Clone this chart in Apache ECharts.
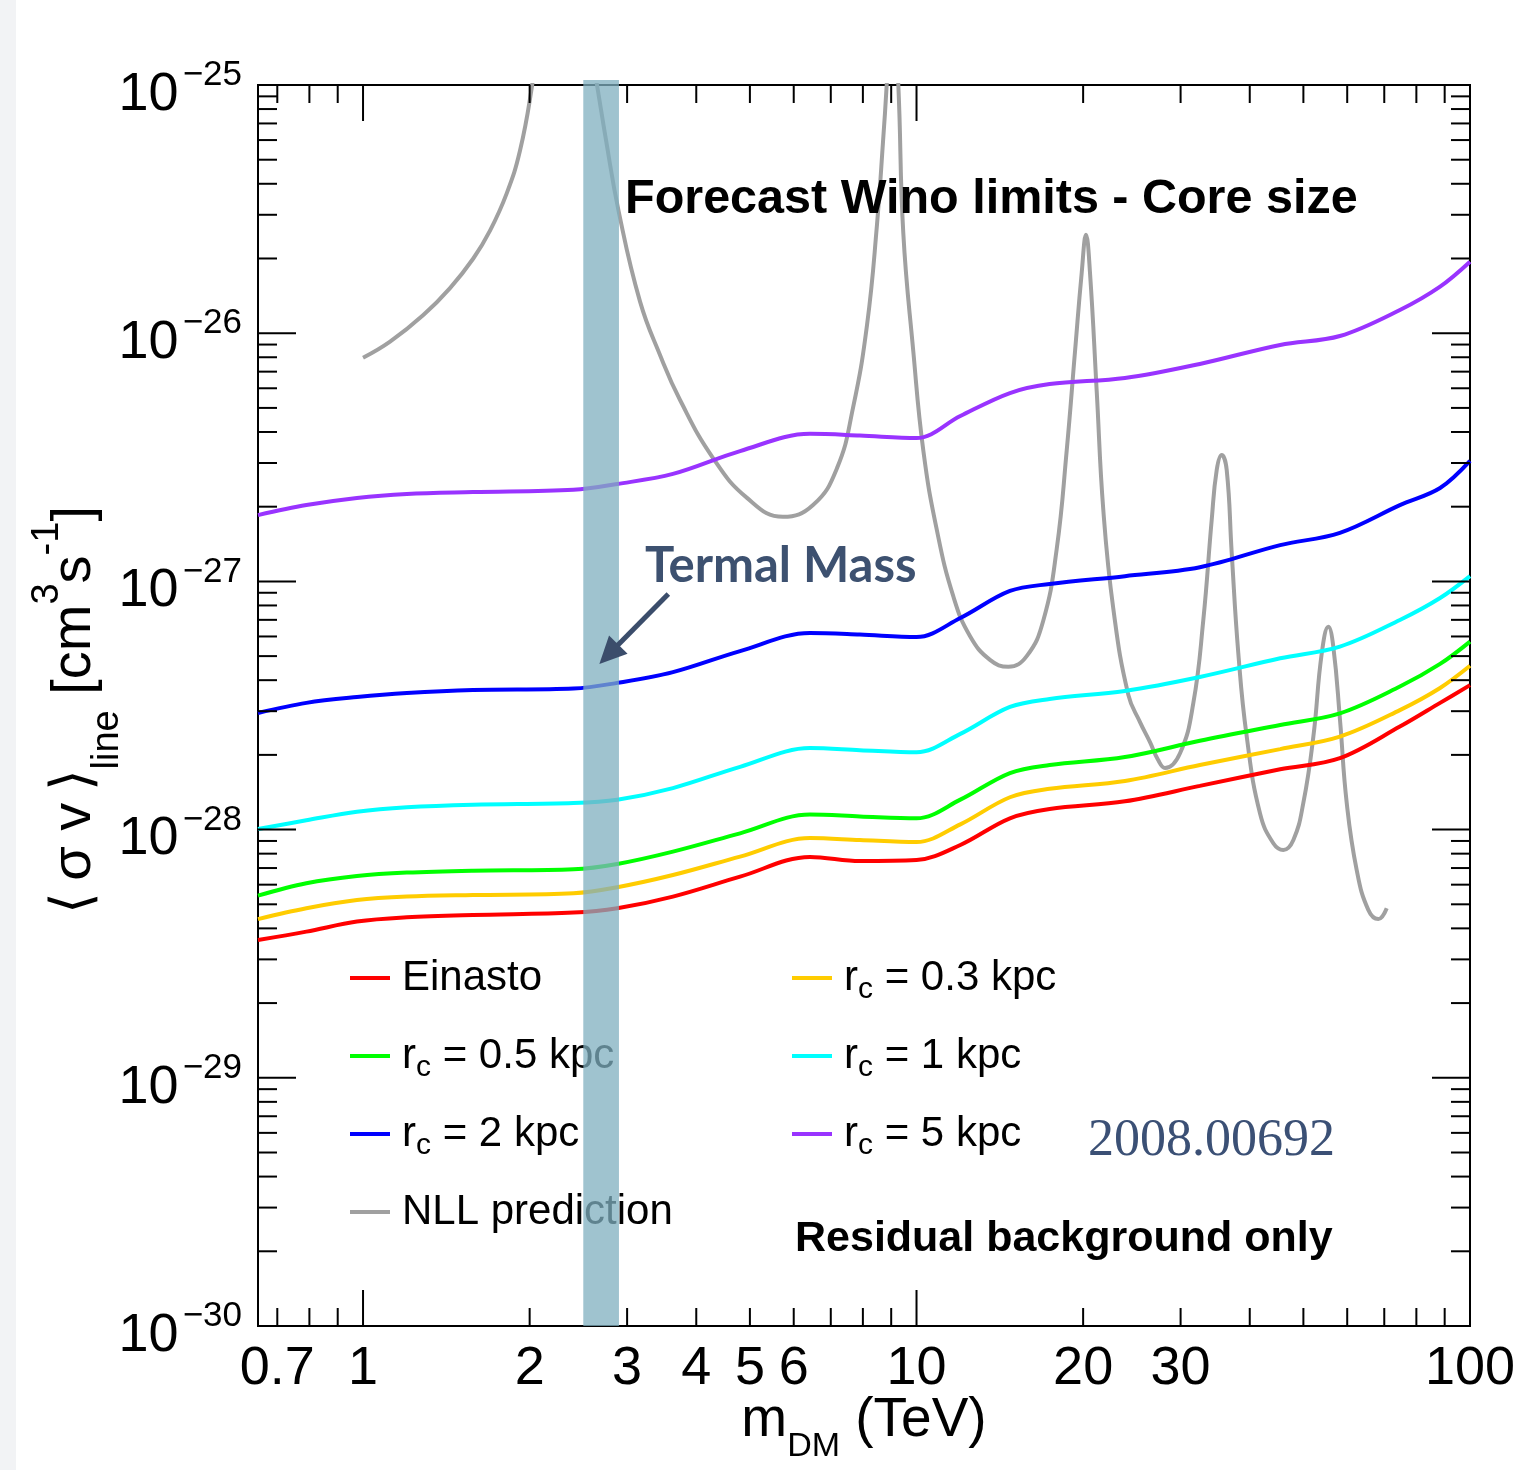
<!DOCTYPE html>
<html>
<head>
<meta charset="utf-8">
<script src="https://cdn.jsdelivr.net/npm/echarts/dist/echarts.min.js"></script>
<style>
html,body{margin:0;padding:0;background:#ffffff;}
#chart{width:1532px;height:1470px;}
</style>
</head>
<body>
<div id="chart"></div>
<script>
// ---------------- data ----------------
const massTeV      = [0.646, 0.79, 0.975, 1.2, 1.58, 2.4, 2.88, 3.63, 4.8, 6.42, 7.9, 10.0, 12.0, 14.75, 17.4, 23.8, 32.5, 45.4, 58.2, 74.7, 88.3, 100];
const sigmaEinasto = [3.59e-29, 3.88e-29, 4.26e-29, 4.43e-29, 4.53e-29, 4.63e-29, 4.82e-29, 5.37e-29, 6.46e-29, 7.76e-29, 7.47e-29, 7.54e-29, 8.67e-29, 1.11e-28, 1.21e-28, 1.30e-28, 1.50e-28, 1.75e-28, 1.94e-28, 2.60e-28, 3.24e-28, 3.82e-28];
const sigmaRc03    = [4.36e-29, 4.82e-29, 5.20e-29, 5.37e-29, 5.45e-29, 5.54e-29, 5.86e-29, 6.56e-29, 7.78e-29, 9.25e-29, 9.08e-29, 8.91e-29, 1.05e-28, 1.35e-28, 1.46e-28, 1.57e-28, 1.82e-28, 2.11e-28, 2.37e-28, 3.03e-28, 3.72e-28, 4.57e-28];
const sigmaRc05    = [5.42e-29, 6.08e-29, 6.50e-29, 6.71e-29, 6.83e-29, 6.92e-29, 7.27e-29, 8.15e-29, 9.66e-29, 1.15e-28, 1.13e-28, 1.11e-28, 1.32e-28, 1.69e-28, 1.82e-28, 1.96e-28, 2.28e-28, 2.64e-28, 2.94e-28, 3.77e-28, 4.65e-28, 5.72e-28];
const sigmaRc1     = [1.006e-28, 1.09e-28, 1.18e-28, 1.23e-28, 1.26e-28, 1.28e-28, 1.32e-28, 1.47e-28, 1.79e-28, 2.13e-28, 2.09e-28, 2.05e-28, 2.43e-28, 3.12e-28, 3.36e-28, 3.62e-28, 4.12e-28, 4.90e-28, 5.46e-28, 6.99e-28, 8.57e-28, 1.05e-27];
const sigmaRc2     = [2.95e-28, 3.24e-28, 3.42e-28, 3.55e-28, 3.65e-28, 3.70e-28, 3.90e-28, 4.31e-28, 5.24e-28, 6.20e-28, 6.11e-28, 5.97e-28, 7.12e-28, 9.15e-28, 9.76e-28, 1.05e-27, 1.14e-27, 1.40e-27, 1.57e-27, 2.03e-27, 2.38e-27, 3.06e-27];
const sigmaRc5     = [1.85e-27, 2.03e-27, 2.17e-27, 2.25e-27, 2.29e-27, 2.34e-27, 2.47e-27, 2.71e-27, 3.35e-27, 3.93e-27, 3.87e-27, 3.78e-27, 4.64e-27, 5.74e-27, 6.24e-27, 6.60e-27, 7.52e-27, 8.97e-27, 9.74e-27, 1.24e-26, 1.54e-26, 1.94e-26];

// NLL prediction (null = curve leaves the frame above 1e-25)
const nllMass  = [1.00, 1.119, 1.285, 1.436, 1.582, 1.696, 1.818, 1.921, 2.017, 2.045, 2.3,
                  2.62, 2.748, 2.897, 3.166, 3.44, 3.739, 4.289, 4.94, 5.738, 6.502, 7.184, 7.678, 8.139, 8.483, 8.698, 8.833, 8.88, 9.0,
                  9.183, 9.271, 9.465, 9.868, 10.287, 10.877, 11.659, 12.496, 13.575, 14.652, 15.815, 16.947, 17.918, 18.679, 19.335, 19.881, 20.241, 20.58, 21.162, 21.751, 22.673, 24.137, 25.338, 26.414, 27.31, 28.114, 29.929, 31.63, 32.973, 34.145, 34.864, 35.597, 36.345, 37.11, 38.143, 39.5, 41.75, 44.12, 46.0, 47.96, 49.99, 52.12, 53.97, 55.47, 56.63, 58.23, 59.88, 62.42, 65.5, 68.29, 70.72];
const nllSigma = [7.96e-27, 9.24e-27, 1.183e-26, 1.52e-26, 2.00e-26, 2.59e-26, 3.66e-26, 5.43e-26, 9.70e-26, 1.3e-25, null,
                  1.15e-25, 6.0e-26, 3.09e-26, 1.34e-26, 8.17e-27, 5.38e-27, 3.14e-27, 2.17e-27, 1.82e-27, 2.03e-27, 2.86e-27, 5.0e-27, 1.08e-26, 2.73e-26, 5.89e-26, 1.0e-25, 1.3e-25, null,
                  1.149e-25, 1.0e-25, 2.53e-26, 8.43e-27, 3.37e-27, 1.62e-27, 8.68e-28, 6.01e-28, 4.83e-28, 4.53e-28, 5.0e-28, 6.96e-28, 1.35e-27, 3.37e-27, 8.43e-27, 1.75e-26, 2.49e-26, 1.75e-26, 5.84e-27, 1.94e-27, 7.77e-28, 3.49e-28, 2.71e-28, 2.25e-28, 1.91e-28, 1.77e-28, 2.03e-28, 3.23e-28, 6.99e-28, 1.77e-27, 2.81e-27, 3.23e-27, 2.81e-27, 1.30e-27, 5.13e-28, 2.37e-28, 1.16e-28, 8.81e-29, 8.28e-29, 9.08e-29, 1.28e-28, 2.37e-28, 5.13e-28, 6.57e-28, 5.46e-28, 2.76e-28, 1.28e-28, 6.87e-29, 4.75e-29, 4.36e-29, 4.82e-29];

const thermalMassBand = [2.5, 2.9];          // TeV
const arrowFrom = [3.561, 8.90e-28];         // annotation arrow (data coords)
const arrowTo   = [2.673, 4.65e-28];

// axis ticks
const xMin = 0.646, xMax = 100, yMin = 1e-30, yMax = 1e-25;
const xMajorTicks = [1, 10, 100];
const xMinorTicks = [0.7, 0.8, 0.9, 2, 3, 4, 5, 6, 7, 8, 9, 20, 30, 40, 50, 60, 70, 80, 90];
const xTickLabels = [0.7, 1, 2, 3, 4, 5, 6, 10, 20, 30, 100];
const yDecades = [-30, -29, -28, -27, -26, -25];
const yMinorFactors = [2, 3, 4, 5, 6, 7, 8, 9];

// series names / colours / legend labels
const seriesKeys   = ['Einasto', 'rc03', 'rc05', 'rc1', 'rc2', 'rc5'];
const seriesValues = [sigmaEinasto, sigmaRc03, sigmaRc05, sigmaRc1, sigmaRc2, sigmaRc5];
const seriesColors = ['#ff0000', '#ffcc00', '#00ff00', '#00ffff', '#0000ff', '#9933ff'];
const nllColor = '#a0a0a0';
const legendCol1 = ['Einasto', 'rc05', 'rc2', 'NLL'];
const legendCol2 = ['rc03', 'rc1', 'rc5'];
const legendText = {
  'Einasto': '{f|Einasto}{c|\u2009}',
  'rc03': '{f|r}{c|c}{t| = 0.3 kpc}',
  'rc05': '{f|r}{c|c}{t| = 0.5 kpc}',
  'rc1':  '{f|r}{c|c}{t| = 1 kpc}',
  'rc2':  '{f|r}{c|c}{t| = 2 kpc}',
  'rc5':  '{f|r}{c|c}{t| = 5 kpc}',
  'NLL':  '{f|NLL prediction}{c|\u2009}'
};

// ---------------- chart ----------------
const FONT = "'Liberation Sans', Arial, Helvetica, sans-serif";
const chart = echarts.init(document.getElementById('chart'), null, {renderer: 'canvas'});

const lineSeries = seriesKeys.map((k, i) => ({
  name: k, type: 'line', z: 3, symbol: 'none', smooth: 0.35, silent: true,
  lineStyle: {color: seriesColors[i], width: 4}, itemStyle: {color: seriesColors[i]},
  data: massTeV.map((m, j) => [m, seriesValues[i][j]])
}));

const nllSeries = {
  name: 'NLL', type: 'line', z: 2, symbol: 'none', smooth: 0.45, silent: true, connectNulls: false,
  lineStyle: {color: nllColor, width: 4}, itemStyle: {color: nllColor},
  data: nllMass.map((m, j) => [m, nllSigma[j] === null ? '-' : nllSigma[j]])
};

const xTickData = xMajorTicks.map(v => [v, yMin, 1]).concat(xMinorTicks.map(v => [v, yMin, 0]));
const yTickData = [];
yDecades.forEach(e => {
  yTickData.push([xMin, Math.pow(10, e), 1]);
  if (e < -25) yMinorFactors.forEach(f => yTickData.push([xMin, f * Math.pow(10, e), 0]));
});

const tickStyle = {stroke: '#000', lineWidth: 2};

const richLegend = {
  f: {fontSize: 42, fontFamily: FONT, color: '#000', lineHeight: 54, padding: [0, 0, 0, 7]},
  t: {fontSize: 42, fontFamily: FONT, color: '#000', lineHeight: 54},
  c: {fontSize: 30, fontFamily: FONT, color: '#000', lineHeight: 30, padding: [24, 0, 0, 0]}
};
const legendBase = {orient: 'vertical', itemGap: 24, itemWidth: 40, itemHeight: 4, icon: 'rect', padding: 0,
  selectedMode: false, formatter: n => legendText[n], textStyle: {rich: richLegend}};

const option = {
  animation: false,
  backgroundColor: '#ffffff',
  grid: {left: 258, top: 85, right: 62, bottom: 144, show: true, borderColor: '#000', borderWidth: 2,
         backgroundColor: '#ffffff', containLabel: false, outerBoundsMode: 'none'},
  xAxis: {
    type: 'log', logBase: 10, min: xMin, max: xMax,
    axisLine: {show: true, lineStyle: {color: '#000', width: 2}},
    axisTick: {show: false}, axisLabel: {show: false}, splitLine: {show: false}, minorTick: {show: false},
    name: '{a|m}{d|DM}{a| (TeV)}', nameLocation: 'middle', nameGap: 63,
    nameTextStyle: {rich: {
      a: {fontSize: 55, fontFamily: FONT, color: '#000', lineHeight: 64},
      d: {fontSize: 34, fontFamily: FONT, color: '#000', lineHeight: 34, padding: [51, 0, 0, 0]}
    }}
  },
  yAxis: {
    type: 'log', logBase: 10, min: yMin, max: yMax,
    axisLine: {show: true, lineStyle: {color: '#000', width: 2}},
    axisTick: {show: false}, splitLine: {show: false}, minorTick: {show: false},
    axisLabel: {show: false}
  },
  legend: [
    Object.assign({}, legendBase, {left: 350, top: 951, data: legendCol1}),
    Object.assign({}, legendBase, {left: 792, top: 951, data: legendCol2})
  ],
  graphic: [
    {type: 'rect', shape: {x: 0, y: 0, width: 16, height: 1470}, style: {fill: '#f2f3f5'}, silent: true},
    {type: 'text', x: 625, y: 200, silent: true, z: 20,
     style: {text: 'Forecast Wino limits - Core size', font: "bold 48.5px 'Liberation Sans', Arial, sans-serif",
             fill: '#000', align: 'left', verticalAlign: 'middle'}},
    {type: 'text', x: 645, y: 566, silent: true, z: 20,
     style: {text: 'Termal Mass', font: "bold 49px Lato, 'Open Sans', sans-serif",
             fill: '#3d5170', align: 'left', verticalAlign: 'middle'}},
    {type: 'text', x: 1088, y: 1141, silent: true, z: 20,
     style: {text: '2008.00692', font: "52px 'Liberation Serif', 'DejaVu Serif', serif",
             fill: '#3b5075', align: 'left', verticalAlign: 'middle'}},
    {type: 'text', x: 795, y: 1239, silent: true, z: 20,
     style: {text: 'Residual background only', font: "bold 43px 'Liberation Sans', Arial, sans-serif",
             fill: '#000', align: 'left', verticalAlign: 'middle'}},
    // y-axis title (rotated)
    {type: 'text', x: 75, y: 710, rotation: Math.PI / 2, silent: true, z: 20,
     style: {text: '{a|\u27E8\u2009\u03C3 v\u2009\u27E9}{d|line}{a| [cm}{u|3}{a|s}{u|-1}{a|]}',
             align: 'center', verticalAlign: 'middle',
             rich: {
               a: {fontSize: 56, fontFamily: FONT, fill: '#000', color: '#000', lineHeight: 64},
               d: {fontSize: 38, fontFamily: FONT, fill: '#000', color: '#000', lineHeight: 36, padding: [66, 0, 0, 0]},
               u: {fontSize: 38, fontFamily: FONT, fill: '#000', color: '#000', lineHeight: 36, padding: [0, 0, 54, 0]}
             }}}
  ],
  series: [
    nllSeries,
    ...lineSeries,
    // thermal mass band (drawn over the curves)
    {type: 'custom', name: 'band', z: 5, silent: true, clip: false,
     encode: {x: 0, y: 1},
     data: [[thermalMassBand[0], yMin, thermalMassBand[1]]],
     renderItem: (p, api) => {
       const a = api.coord([api.value(0), yMax]);
       const b = api.coord([api.value(2), yMin]);
       return {type: 'rect', shape: {x: a[0], y: a[1] - 5, width: b[0] - a[0], height: b[1] - a[1] + 5},
               style: {fill: 'rgba(127,175,191,0.75)'}};
     }},
    // annotation arrow
    {type: 'custom', name: 'arrow', z: 6, silent: true, clip: false, encode: {x: 0, y: 1},
     data: [[arrowFrom[0], arrowFrom[1], arrowTo[0], arrowTo[1]]],
     renderItem: (p, api) => {
       const a = api.coord([api.value(0), api.value(1)]);
       const b = api.coord([api.value(2), api.value(3)]);
       const dx = b[0] - a[0], dy = b[1] - a[1], L = Math.sqrt(dx * dx + dy * dy);
       const ux = dx / L, uy = dy / L, px = -uy, py = ux;
       const hl = 27, hw = 13;
       const bx = b[0] - ux * hl, by = b[1] - uy * hl;
       return {type: 'group', children: [
         {type: 'line', shape: {x1: a[0], y1: a[1], x2: bx + ux * 3, y2: by + uy * 3},
          style: {stroke: '#3b4d6b', lineWidth: 5}},
         {type: 'polygon', shape: {points: [[b[0], b[1]], [bx + px * hw, by + py * hw], [bx - px * hw, by - py * hw]]},
          style: {fill: '#3b4d6b'}}
       ]};
     }},
    // x ticks (bottom and top, pointing inward)
    {type: 'custom', name: 'xticks', z: 8, silent: true, clip: false, encode: {x: 0, y: 1},
     data: xTickData,
     renderItem: (p, api) => {
       const v = api.value(0), len = api.value(2) ? 36 : 18;
       const b = api.coord([v, yMin]), t = api.coord([v, yMax]);
       return {type: 'group', children: [
         {type: 'line', shape: {x1: b[0], y1: b[1], x2: b[0], y2: b[1] - len}, style: tickStyle},
         {type: 'line', shape: {x1: t[0], y1: t[1], x2: t[0], y2: t[1] + len}, style: tickStyle}
       ]};
     }},
    // y ticks (left and right, pointing inward)
    {type: 'custom', name: 'yticks', z: 8, silent: true, clip: false, encode: {x: 0, y: 1},
     data: yTickData,
     renderItem: (p, api) => {
       const v = api.value(1), len = api.value(2) ? 38 : 19;
       const l = api.coord([xMin, v]), r = api.coord([xMax, v]);
       return {type: 'group', children: [
         {type: 'line', shape: {x1: l[0], y1: l[1], x2: l[0] + len, y2: l[1]}, style: tickStyle},
         {type: 'line', shape: {x1: r[0], y1: r[1], x2: r[0] - len, y2: r[1]}, style: tickStyle}
       ]};
     }},
    // x tick labels
    {type: 'custom', name: 'xlabels', z: 8, silent: true, clip: false, encode: {x: 0, y: 1},
     data: xTickLabels.map(v => [v, yMin]),
     renderItem: (p, api) => {
       const v = api.value(0);
       const b = api.coord([v, yMin]);
       return {type: 'text', x: b[0], y: b[1] + 16,
               style: {text: String(v), font: "54px 'Liberation Sans', Arial, sans-serif", fill: '#000',
                       align: 'center', verticalAlign: 'top'}};
     }},
    // y tick labels 10^{e}
    {type: 'custom', name: 'ylabels', z: 8, silent: true, clip: false, encode: {x: 0, y: 1},
     data: yDecades.map(e => [xMin, Math.pow(10, e), e]),
     renderItem: (p, api) => {
       const c = api.coord([xMin, api.value(1)]);
       const e = api.value(2);
       return {type: 'text', x: c[0] - 16, y: c[1],
               style: {text: '{b|10}{s|\u2212' + Math.abs(e) + '}', align: 'right', verticalAlign: 'middle',
                       padding: [20, 0, 0, 0],
                       rich: {
                         b: {fontSize: 54, fontFamily: FONT, fill: '#000', lineHeight: 54},
                         s: {fontSize: 35, fontFamily: FONT, fill: '#000', lineHeight: 35, padding: [0, 0, 39, 4]}
                       }}};
     }}
  ]
};
chart.setOption(option);
</script>
</body>
</html>
